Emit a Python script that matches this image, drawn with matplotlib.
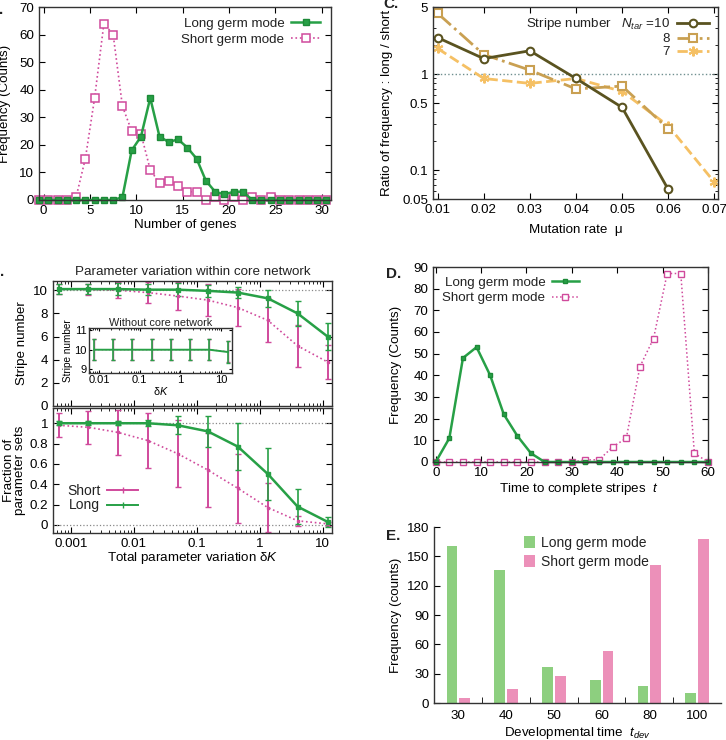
import numpy as np
import matplotlib
matplotlib.use('Agg')
import matplotlib.pyplot as plt
from matplotlib.ticker import LogLocator, NullFormatter, MultipleLocator

plt.rcParams['font.family'] = ['Liberation Sans', 'DejaVu Sans']
plt.rcParams['mathtext.fontset'] = 'custom'
plt.rcParams['mathtext.rm'] = 'Liberation Sans'
plt.rcParams['mathtext.it'] = 'Liberation Sans:italic'
plt.rcParams['font.size'] = 9.6
plt.rcParams['text.color'] = '#222222'
plt.rcParams['xtick.direction'] = 'in'
plt.rcParams['ytick.direction'] = 'in'
plt.rcParams['xtick.top'] = True
plt.rcParams['ytick.right'] = True
plt.rcParams['xtick.major.size'] = 4
plt.rcParams['ytick.major.size'] = 4
plt.rcParams['xtick.minor.size'] = 2
plt.rcParams['ytick.minor.size'] = 2
plt.rcParams['axes.linewidth'] = 1.0
plt.rcParams['axes.edgecolor'] = '#333333'

# ---- A: number of genes ----
gene_bins = np.arange(32) - 0.5
genes_long = [0, 0, 0, 0, 0, 0, 0, 0, 0, 1, 18, 23, 37, 23, 21, 22, 19, 15, 7, 3,
              2, 3, 3, 0, 0, 0, 0, 0, 0, 0, 0, 0]
genes_short = [0, 0, 0, 0, 1, 15, 37, 64, 60, 34, 25, 24, 11, 6, 7, 5, 3, 3, 0, 1,
               0, 1, 0, 1, 0, 1, 0, 0, 0, 0, 0, 0]

# ---- C: mutation rate ----
mu = [0.01, 0.02, 0.03, 0.04, 0.05, 0.06, 0.07]
ratio_n10 = [2.4, 1.45, 1.75, 0.9, 0.45, 0.063]
ratio_n8 = [4.3, 1.6, 1.1, 0.7, 0.75, 0.27]
ratio_n7 = [1.85, 0.9, 0.8, 0.9, 0.66, 0.29, 0.075]

# ---- B: parameter variation ----
dk = [0.00064, 0.0019, 0.0056, 0.0167, 0.05, 0.15, 0.45, 1.35, 4.0, 12.0]
stripe_long = [10.1, 10.1, 10.1, 10.05, 10.05, 9.95, 9.8, 9.3, 8.0, 6.0]
stripe_long_err = [0.4, 0.45, 0.5, 0.5, 0.55, 0.5, 0.5, 0.75, 1.05, 1.2]
stripe_short = [10.1, 10.05, 10.0, 9.8, 9.5, 9.15, 8.5, 7.4, 5.2, 3.8]
stripe_short_err = [0.4, 0.5, 0.7, 0.9, 1.2, 1.35, 1.6, 1.9, 1.8, 1.5]
frac_long = [1.0, 1.0, 1.0, 1.0, 0.98, 0.92, 0.77, 0.5, 0.18, 0.03]
frac_long_err = [0.02, 0.02, 0.02, 0.03, 0.09, 0.15, 0.23, 0.26, 0.17, 0.05]
frac_short = [0.98, 0.96, 0.91, 0.83, 0.7, 0.54, 0.36, 0.17, 0.04, 0.01]
frac_short_err = [0.12, 0.16, 0.22, 0.27, 0.33, 0.36, 0.34, 0.24, 0.05, 0.02]
# inset: without core network
dk_inset = [0.0076, 0.022, 0.066, 0.2, 0.59, 1.75, 5.2, 15]
inset_long = [10, 10, 10, 10, 10, 10, 10, 9.88]
inset_short = [10, 10, 10, 10, 10, 10, 10, 9.9]
inset_err = [0.55, 0.55, 0.55, 0.55, 0.55, 0.55, 0.55, 0.55]

# ---- D: time to complete stripes ----
t_complete = [0, 3, 6, 9, 12, 15, 18, 21, 24, 27, 30, 33, 36, 39, 42, 45, 48, 51, 54, 57, 60]
time_long = [0, 11, 48, 53, 40, 22, 12, 4, 0, 0, 0, 0, 0, 0, 0, 0, 0, 0, 0, 0, 0]
time_short = [0, 0, 0, 0, 0, 0, 0, 0, 0, 0, 0, 1, 1, 7, 11, 44, 57, 87, 87, 4, 0]

# ---- E: developmental time ----
t_dev = ['30', '40', '50', '60', '80', '100']
dev_long = [161, 136, 37, 24, 17, 10]
dev_short = [5, 14, 28, 53, 141, 168]

green = '#27a046'
pink = '#d04a9c'
olive = '#5a5320'
tan = '#c9a052'
light_orange = '#f5c064'
bar_green = '#8dcf7f'
bar_pink = '#ec90b9'

W, H = 726, 740
fig = plt.figure(figsize=(W / 100, H / 100), dpi=100)


def box(left, top, right, bottom):
    return [left / W, 1 - bottom / H, (right - left) / W, (bottom - top) / H]


# ================= A =================
axa = fig.add_axes(box(39, 7, 331, 200))
ls, = axa.plot(gene_bins, genes_short, ls=':', color=pink, lw=1.2, marker='s', ms=6,
               mfc='white', mec=pink, mew=1.1, clip_on=False, label='Short germ mode')
ll, = axa.plot(gene_bins, genes_long, '-', color=green, lw=1.8, marker='s', ms=4.5,
               mec='#1d8a38', clip_on=False, label='Long germ mode')
axa.set_xlim(-0.5, 31)
axa.set_ylim(0, 70)
axa.xaxis.set_major_locator(MultipleLocator(5))
axa.yaxis.set_major_locator(MultipleLocator(10))
axa.set_xlabel('Number of genes')
axa.set_ylabel('Frequency (Counts)')
axa.yaxis.set_label_coords(-0.095, 0.5)
axa.xaxis.set_label_coords(0.5, -0.1)
axa.xaxis.label.set_va('top')
axa.legend(handles=[ll, ls], loc='upper right', frameon=False, markerfirst=False,
           handlelength=2.2, labelspacing=0.25, borderaxespad=0.4, handletextpad=0.5)

# ================= C =================
axc = fig.add_axes(box(433, 7, 718, 199))
axc.set_yscale('log')
axc.axhline(1, color='#6f8f8f', ls=':', lw=1)
l7, = axc.plot(mu, ratio_n7, '--', color=light_orange, lw=2, marker=(6, 2, 0), ms=7,
               mew=1.5, clip_on=False, label='7')
l8, = axc.plot(mu[:6], ratio_n8, '-.', color=tan, lw=2, marker='s', ms=5.5,
               mfc='white', mew=1.5, label='8')
l10, = axc.plot(mu[:6], ratio_n10, '-', color=olive, lw=2, marker='o', ms=5.5,
                mfc='white', mew=1.5, label='Stripe number   $N_{tar}$ =10')
axc.set_xlim(0.009, 0.0708)
axc.set_ylim(0.05, 5)
axc.set_xticks(mu)
axc.set_xticklabels(['0.01', '0.02', '0.03', '0.04', '0.05', '0.06', '0.07'])
axc.set_yticks([0.05, 0.1, 0.5, 1, 5])
axc.set_yticklabels(['0.05', '0.1', '0.5', '1', '5'])
axc.yaxis.set_minor_formatter(NullFormatter())
axc.set_xlabel('Mutation rate  μ')
axc.set_ylabel('Ratio of frequency : long / short')
axc.yaxis.set_label_coords(-0.14, 0.5)
axc.xaxis.set_label_coords(0.5, -0.13)
axc.xaxis.label.set_va('top')
axc.legend(handles=[l10, l8, l7], loc='upper right', frameon=False, markerfirst=False,
           handlelength=2.4, labelspacing=0.05, borderaxespad=0.3, handletextpad=0.5)

# ================= B =================
axb1 = fig.add_axes(box(53, 281, 332, 406))
axb2 = fig.add_axes(box(53, 408, 332, 533))
for ax in (axb1, axb2):
    ax.set_xscale('log')
    ax.set_xlim(0.00052, 14.1)
    ax.xaxis.set_minor_locator(LogLocator(base=10, subs=np.arange(2, 10), numticks=20))
    ax.xaxis.set_minor_formatter(NullFormatter())

axb1.axhline(10, color='#888888', ls=':', lw=0.9)
axb1.errorbar(dk, stripe_short, yerr=stripe_short_err, color=pink, ls=':', lw=1.2,
              marker='s', ms=2, capsize=2, elinewidth=1.4)
axb1.errorbar(dk, stripe_long, yerr=stripe_long_err, color=green, ls='-', lw=1.8,
              marker='s', ms=2.5, capsize=2, elinewidth=1.2)
axb1.set_ylim(0, 10.8)
axb1.set_yticks([0, 2, 4, 6, 8, 10])
axb1.tick_params(axis='x', labelbottom=False)
axb1.set_ylabel('Stripe number')
axb1.yaxis.set_label_coords(-0.09, 0.5)
axb1.set_title('Parameter variation within core network', fontsize=9.6, pad=4)

axb2.axhline(1, color='#888888', ls=':', lw=0.9)
axb2.axhline(0, color='#888888', ls=':', lw=0.9)
axb2.errorbar(dk, frac_short, yerr=frac_short_err, color=pink, ls=':', lw=1.2,
              marker='s', ms=2, capsize=2, elinewidth=1.4)
axb2.errorbar(dk, frac_long, yerr=frac_long_err, color=green, ls='-', lw=1.8,
              marker='s', ms=2.5, capsize=2, elinewidth=1.2)
axb2.set_ylim(-0.08, 1.15)
axb2.set_yticks([0, 0.2, 0.4, 0.6, 0.8, 1])
axb2.set_yticklabels(['0', '0.2', '0.4', '0.6', '0.8', '1'])
axb2.set_xticks([0.001, 0.01, 0.1, 1, 10])
axb2.set_xticklabels(['0.001', '0.01', '0.1', '1', '10'])
axb2.set_xlabel('Total parameter variation δ$K$')
axb2.xaxis.set_label_coords(0.5, -0.135)
axb2.xaxis.label.set_va('top')
axb2.set_ylabel('Fraction of\nparameter sets', linespacing=0.95)
axb2.yaxis.set_label_coords(-0.095, 0.5)
short_line = plt.Line2D([], [], color=pink, lw=1.4, marker='|', ms=4)
long_line = plt.Line2D([], [], color=green, lw=1.4, marker='|', ms=4)
axb2.legend([short_line, long_line], ['Short', 'Long'], loc='lower left',
            bbox_to_anchor=(0.03, 0.12), borderaxespad=0, frameon=False,
            markerfirst=False, handlelength=2.2, labelspacing=0.05,
            handletextpad=0.5, fontsize=10)

# inset
axi = fig.add_axes(box(89, 328, 232, 373))
axi.set_xscale('log')
axi.errorbar(dk_inset, inset_short, yerr=inset_err, color=pink, ls=':', lw=1.0,
             capsize=1.5, elinewidth=1.0)
axi.errorbar(dk_inset, inset_long, yerr=inset_err, color=green, ls='-', lw=1.4,
             capsize=1.5, elinewidth=1.2)
axi.set_xlim(0.0056, 18.7)
axi.set_ylim(8.8, 11.12)
axi.set_yticks([9, 10, 11])
axi.set_xticks([0.01, 0.1, 1, 10])
axi.set_xticklabels(['0.01', '0.1', '1', '10'])
axi.xaxis.set_minor_locator(LogLocator(base=10, subs=np.arange(2, 10), numticks=20))
axi.xaxis.set_minor_formatter(NullFormatter())
axi.tick_params(labelsize=8, length=2.5, pad=1.5)
axi.tick_params(which='minor', length=1.2)
axi.set_title('Without core network', fontsize=7.8, pad=1.5)
axi.set_xlabel('δ$K$', fontsize=7.8, labelpad=0)
axi.set_ylabel('Stripe number', fontsize=7.2, labelpad=1)

# ================= D =================
axd = fig.add_axes(box(433, 267, 708, 462))
sd, = axd.plot(t_complete, time_short, ls=':', color=pink, lw=1.1, marker='s', ms=4.5,
               mfc='white', mec=pink, mew=1.0, clip_on=False, label='Short germ mode')
ld, = axd.plot(t_complete, time_long, '-', color=green, lw=1.8, marker='s', ms=3.5,
               mec='#1d8a38', clip_on=False, label='Long germ mode')
axd.set_xlim(-0.6, 60)
axd.set_ylim(0, 90)
axd.xaxis.set_major_locator(MultipleLocator(10))
axd.yaxis.set_major_locator(MultipleLocator(10))
axd.set_xlabel('Time to complete stripes  $t$')
axd.set_ylabel('Frequency (Counts)')
axd.yaxis.set_label_coords(-0.113, 0.5)
axd.xaxis.set_label_coords(0.53, -0.1)
axd.xaxis.label.set_va('top')
axd.legend(handles=[ld, sd], loc='upper left', bbox_to_anchor=(0.0, 1.0), frameon=False,
           markerfirst=False, handlelength=2.0, labelspacing=0.25, borderaxespad=0.3,
           handletextpad=0.5)

# ================= E =================
axe = fig.add_axes(box(434, 527, 721, 703))
xpos = np.arange(len(t_dev))
axe.bar(xpos - 0.133, dev_long, width=0.223, color=bar_green, label='Long germ mode')
axe.bar(xpos + 0.133, dev_short, width=0.223, color=bar_pink, label='Short germ mode')
axe.set_xlim(-0.51, 5.5)
axe.set_ylim(0, 180)
axe.set_yticks(np.arange(0, 181, 30))
axe.set_xticks(xpos)
axe.set_xticklabels(t_dev)
axe.set_xticks(xpos[:-1] + 0.5, minor=True)
axe.spines['top'].set_visible(False)
axe.spines['right'].set_visible(False)
axe.tick_params(axis='x', which='major', length=0, top=False, pad=5)
axe.tick_params(axis='x', which='minor', length=4, top=False)
axe.tick_params(axis='y', right=False, direction='in')
axe.set_xlabel('Developmental time  $t_{dev}$')
axe.set_ylabel('Frequency (counts)')
axe.yaxis.set_label_coords(-0.11, 0.5)
axe.xaxis.set_label_coords(0.5, -0.125)
axe.xaxis.label.set_va('top')
axe.legend(loc='upper left', bbox_to_anchor=(0.27, 1.02), frameon=False,
           handlelength=0.8, handleheight=0.9, handletextpad=0.4, labelspacing=0.35,
           fontsize=10)

# panel letters
letter = dict(fontsize=11, fontweight='bold', color='#222222')
fig.text(4 / W, 1 - 14 / H, 'A.', ha='right', **letter)
fig.text(4 / W, 1 - 276 / H, 'B.', ha='right', **letter)
fig.text(383 / W, 1 - 8 / H, 'C.', ha='left', **letter)
fig.text(386 / W, 1 - 278 / H, 'D.', ha='left', **letter)
fig.text(386 / W, 1 - 540 / H, 'E.', ha='left', **letter)

fig.savefig('out.png', dpi=100)
